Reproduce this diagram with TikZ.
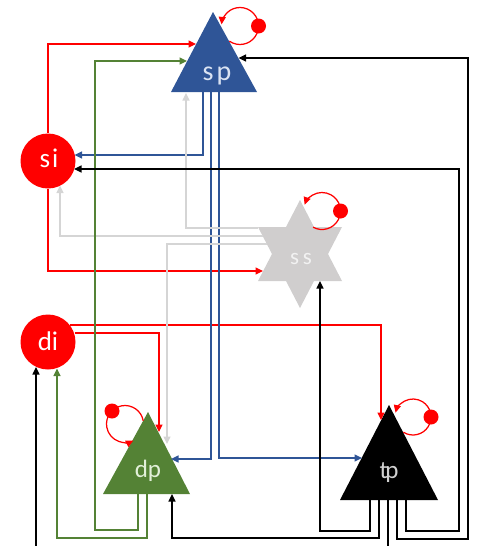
\documentclass[tikz,border=0pt]{standalone}
\usepackage{fontspec}
\setmainfont{Carlito}
\usetikzlibrary{arrows.meta}
\definecolor{cblue}{HTML}{2F5597}
\definecolor{cgreen}{HTML}{548235}
\definecolor{cred}{HTML}{FF0000}
\definecolor{cstar}{HTML}{D0CECE}
\definecolor{cgrayline}{HTML}{D5D5D5}
\definecolor{splbl}{HTML}{DAE3F3}
\definecolor{dplbl}{HTML}{E2F0D9}
\definecolor{tplbl}{HTML}{D0D0D0}
\definecolor{sslbl}{HTML}{F2F2F2}
\begin{document}
\begin{tikzpicture}[x=1pt,y=-1pt,line width=1.25pt,
  tip/.style={-{Triangle[length=7.5pt,width=7pt]}},
  lbl/.style={inner sep=0pt,anchor=base},
  cnode/.style={circle,fill=cred,minimum size=55pt,inner sep=0pt,text=white},
  dot/.style={fill=cred,draw=none}]
\useasboundingbox (0,0) rectangle (477,546);
\clip (0,0) rectangle (477,546);
% shapes
\fill[cblue] (213,12) -- (257,92) -- (171,92) -- cycle;
\fill[cgreen] (148,412) -- (190,494) -- (103,494) -- cycle;
\fill[black] (389,405) -- (438,500) -- (340,500) -- cycle;
\fill[cstar] (300,200) -- (342,281) -- (258,281) -- cycle
             (300,308) -- (258,227) -- (342,227) -- cycle;
\node[cnode] (si) at (48,161) {};
\node[cnode] (di) at (48,342) {};
\node[lbl,text=white,font=\fontsize{27}{27}\selectfont] (silbl) at (49,167) {s\kern2pt i};
\node[lbl,text=white,font=\fontsize{27}{27}\selectfont] (dilbl) at (48,350) {di};
\node[lbl,text=splbl,font=\fontsize{28}{28}\selectfont] (sp) at (217,80) {s\kern3pt p};
\node[lbl,text=dplbl,font=\fontsize{25}{25}\selectfont] (dp) at (148,477) {dp};
\node[lbl,text=tplbl,font=\fontsize{25}{25}\selectfont] (tp) at (389,478) {t\kern-2.5pt p};
\node[lbl,text=sslbl,font=\fontsize{23}{23}\selectfont] (ss) at (301,264) {s\kern4pt s};
% red connectors
\draw[cred,tip] (si.north) -- (48,44) -- (196,44);
\draw[cred,tip] (si.south) -- (48,271) -- (263,271);
\draw[cred,tip] (74.5,333) -- (159,333) -- (159,432);
\draw[cred,tip] (70,325) -- (381,325) -- (381,420);
% blue connectors
\draw[cblue,tip] (203,92) -- (203,155) -- (74.5,155);
\draw[cblue,tip] (211,92) -- (211,459) -- (171,459);
\draw[cblue,tip] (219,92) -- (219,458) -- (362,458);
% gray connectors
\draw[cgrayline,tip] (258,228) -- (186,228) -- (186,93);
\draw[cgrayline,tip] (262.5,236) -- (60,236) -- (60,185.5);
\draw[cgrayline,tip] (266.5,244) -- (167,244) -- (167,444);
% green connectors
\draw[cgreen,tip] (138,494) -- (138,530) -- (95,530) -- (95,61) -- (187,61);
\draw[cgreen,tip] (147,494) -- (147,538) -- (57,538) -- (57,368.5);
% black connectors
\draw[black,tip] (379,500) -- (379,538) -- (172,538) -- (172,494);
\draw[black,tip] (370,500) -- (370,531) -- (320,531) -- (320,281);
\draw[black,tip] (388,500) -- (388,560) -- (36,560) -- (36,367);
\draw[black,tip] (397,500) -- (397,539) -- (468,539) -- (468,58) -- (238.5,58);
\draw[black,tip] (406,500) -- (406,531) -- (459,531) -- (459,169) -- (74,169);
% self loops
\coordinate (spl) at (240,26);
\draw[cred,tip] (spl) ++(125:18.5) arc[start angle=125,end angle=-175,radius=18.5];
\fill[dot] (258.5,26) circle[radius=7.5];
\coordinate (ssl) at (322,211);
\draw[cred,tip] (ssl) ++(119:18.5) arc[start angle=119,end angle=-160,radius=18.5];
\fill[dot] (340.5,211) circle[radius=7.5];
\coordinate (tpl) at (413,417);
\draw[cred,tip] (tpl) ++(122:18) arc[start angle=122,end angle=-166,radius=18];
\fill[dot] (431,417) circle[radius=7.5];
\coordinate (dpl) at (125,424);
\draw[cred,tip] (dpl) ++(-10:18.5) arc[start angle=-10,end angle=-297,radius=18.5];
\fill[dot] (112,411) circle[radius=7.5];
\end{tikzpicture}
\end{document}
